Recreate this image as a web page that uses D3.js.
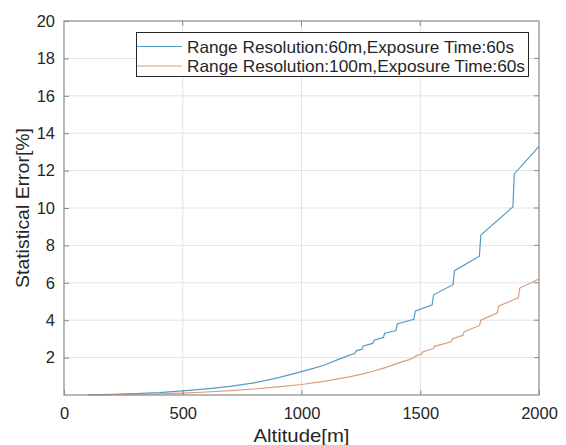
<!DOCTYPE html>
<html><head><meta charset="utf-8">
<script src="https://cdn.jsdelivr.net/npm/d3@7"></script>
<style>body{margin:0;background:#fff}svg{display:block}text{font-family:"Liberation Sans",Arial,sans-serif;fill:#262626}</style>
</head><body>
<script>
const xTicks = [0, 500, 1000, 1500, 2000];
const yTicks = [2, 4, 6, 8, 10, 12, 14, 16, 18, 20];
const seriesNames = ["Range Resolution:60m,Exposure Time:60s", "Range Resolution:100m,Exposure Time:60s"];
const seriesColors = ["#549dc2", "#dc9d78"];
const altitude60 = [100,200,300,400,500,600,700,800,900,1000,1050,1100,1150,1200,1225,1230,1255,1260,1300,1305,1345,1350,1398,1403,1473,1479,1550,1556,1638,1644,1749,1755,1890,1896,2000];
const error60 = [0.01,0.03,0.07,0.13,0.22,0.33,0.46,0.65,0.92,1.25,1.42,1.62,1.88,2.12,2.22,2.36,2.45,2.62,2.76,2.93,3.08,3.30,3.45,3.80,4.05,4.48,4.82,5.36,5.90,6.65,7.42,8.56,10.05,11.82,13.3];
const altitude100 = [150,300,400,500,600,700,800,900,1000,1100,1200,1250,1300,1350,1400,1450,1475,1480,1505,1510,1555,1560,1630,1635,1680,1685,1750,1755,1825,1830,1913,1919,2000];
const error100 = [0.005,0.03,0.06,0.1,0.16,0.23,0.32,0.43,0.56,0.74,0.97,1.1,1.27,1.45,1.68,1.88,2.0,2.08,2.18,2.3,2.48,2.6,2.85,3.0,3.2,3.38,3.72,4.0,4.4,4.75,5.2,5.72,6.2];

const W = 566, H = 445;
const m = {l: 64, t: 21, r: 539, b: 395};
const svg = d3.select("body").append("svg").attr("width", W).attr("height", H);
const x = d3.scaleLinear().domain([0, 2000]).range([m.l, m.r]);
const y = d3.scaleLinear().domain([0, 20]).range([m.b, m.t]);

// grid
svg.append("g").selectAll("line").data(xTicks.slice(1, -1)).join("line")
  .attr("x1", d => x(d)).attr("x2", d => x(d)).attr("y1", m.t).attr("y2", m.b)
  .attr("stroke", "#e3e3e3").attr("stroke-width", 1);
svg.append("g").selectAll("line").data(yTicks.slice(0, -1)).join("line")
  .attr("x1", m.l).attr("x2", m.r).attr("y1", d => y(d)).attr("y2", d => y(d))
  .attr("stroke", "#e3e3e3").attr("stroke-width", 1);

// lines
const line = d3.line().x(d => x(d[0])).y(d => y(d[1]));
const data60 = altitude60.map((a, i) => [a, error60[i]]);
const data100 = altitude100.map((a, i) => [a, error100[i]]);
[data60, data100].forEach((d, i) => {
  svg.append("path").datum(d).attr("d", line).attr("fill", "none")
    .attr("stroke", seriesColors[i]).attr("stroke-width", 1.2);
});

// axes
const axisColor = "#8a8a8a";
const gx = svg.append("g").attr("transform", `translate(0,${m.b})`)
  .call(d3.axisBottom(x).tickValues(xTicks).tickSize(-5).tickPadding(12).tickFormat(d3.format("d")));
const gy = svg.append("g").attr("transform", `translate(${m.l},0)`)
  .call(d3.axisLeft(y).tickValues(yTicks).tickSize(-5).tickPadding(9).tickFormat(d3.format("d")));
[gx, gy].forEach(g => {
  g.select(".domain").remove();
  g.selectAll("line").attr("stroke", axisColor);
  g.selectAll("text").attr("font-size", 16.5).attr("fill", "#262626")
    .style("font-family", '"Liberation Sans",Arial,sans-serif');
});
// top/right ticks
svg.append("g").selectAll("line").data(xTicks.slice(1, -1)).join("line")
  .attr("x1", d => x(d)).attr("x2", d => x(d)).attr("y1", m.t).attr("y2", m.t + 5).attr("stroke", axisColor);
svg.append("g").selectAll("line").data(yTicks.slice(0, -1)).join("line")
  .attr("x1", m.r).attr("x2", m.r - 5).attr("y1", d => y(d)).attr("y2", d => y(d)).attr("stroke", axisColor);
svg.append("rect").attr("x", m.l).attr("y", m.t).attr("width", m.r - m.l).attr("height", m.b - m.t)
  .attr("fill", "none").attr("stroke", axisColor).attr("stroke-width", 1.2);
// axis titles
svg.append("text").attr("x", x(1000)).attr("y", 442).attr("text-anchor", "middle")
  .attr("font-size", 18.5).attr("textLength", 96).attr("lengthAdjust", "spacingAndGlyphs").text("Altitude[m]");
svg.append("text").attr("transform", `translate(29,${(m.t + m.b) / 2}) rotate(-90)`)
  .attr("text-anchor", "middle").attr("font-size", 18.5)
  .attr("textLength", 160).attr("lengthAdjust", "spacingAndGlyphs").text("Statistical Error[%]");

// legend
const lg = svg.append("g");
lg.append("rect").attr("x", 136.5).attr("y", 32.5).attr("width", 392).attr("height", 44)
  .attr("fill", "#fff").attr("stroke", "#262626").attr("stroke-width", 1);
const rowY = [46.5, 66];
seriesNames.forEach((n, i) => {
  lg.append("line").attr("x1", 137).attr("x2", 182).attr("y1", rowY[i]).attr("y2", rowY[i])
    .attr("stroke", seriesColors[i]).attr("stroke-width", 1.2);
  const t = lg.append("text").attr("x", 187).attr("y", rowY[i] + 6).attr("font-size", 16.5).text(n);
  t.attr("textLength", i === 0 ? 327 : 338).attr("lengthAdjust", "spacingAndGlyphs");
});
</script>
</body></html>
